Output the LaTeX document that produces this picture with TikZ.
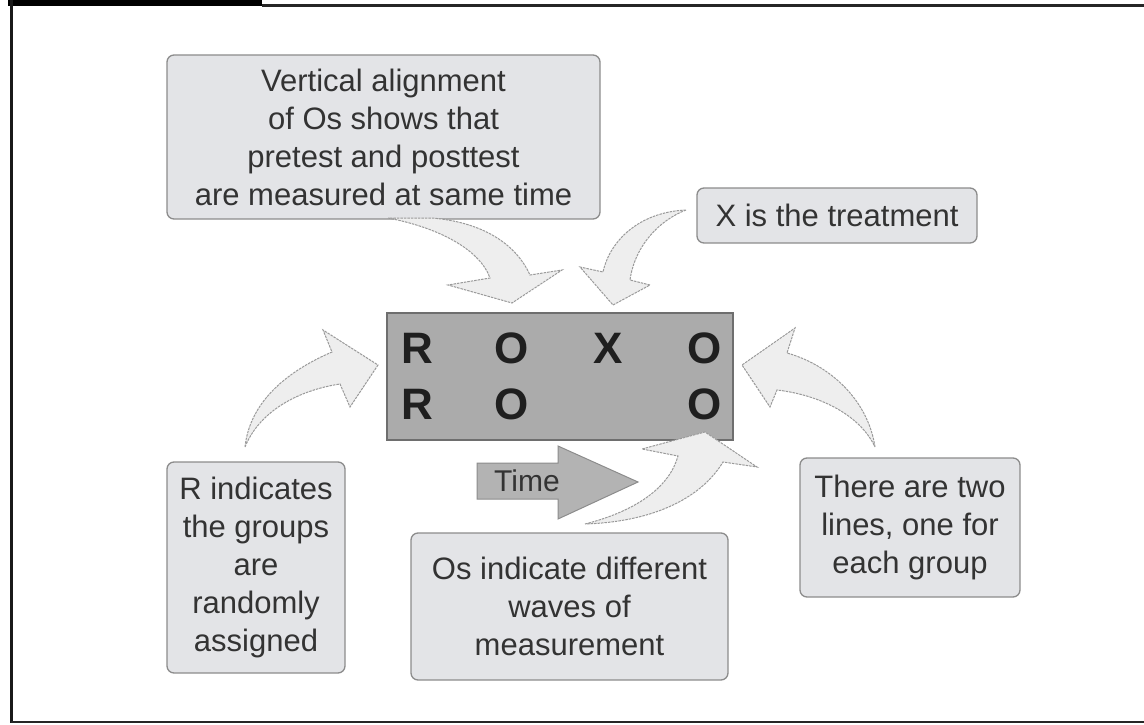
\documentclass[tikz,border=0pt]{standalone}
\usepackage{fontspec}
\setmainfont{Liberation Sans}
\definecolor{boxfill}{HTML}{E3E4E7}
\definecolor{boxline}{HTML}{8C8C8C}
\definecolor{cfill}{HTML}{ABABAB}
\definecolor{cline}{HTML}{6E6E6E}
\definecolor{afill}{HTML}{EEEEEE}
\definecolor{aline}{HTML}{9A9A9A}
\definecolor{tfill}{HTML}{B3B3B3}
\definecolor{txt}{HTML}{333333}
\begin{document}
\begin{tikzpicture}[x=1pt,y=-1pt,
  note/.style={draw=boxline, fill=boxfill, line width=1.3pt, rounded corners=7pt, inner sep=0pt, align=center, text=txt, font=\fontsize{31}{38}\selectfont},
  carrow/.style={fill=afill, draw=aline, line width=1pt, dash pattern=on 2.5pt off 1pt},
  letter/.style={font=\bfseries\fontsize{44}{44}\selectfont, text=black!88, anchor=base, inner sep=0pt}]
\useasboundingbox (0,0) rectangle (1144,725);
% frame
\fill (8,0) rectangle (262,6.5);
\draw[line width=2.5pt, black!85] (262,5.5) -- (1144,5.5);
\draw[line width=3pt, black!90] (11,0) -- (11,723);
\draw[line width=2.5pt, black!85] (11,722) -- (1144,722);

% boxes
\node[note, minimum width=433pt, minimum height=164pt] (top) at (383.5,137) {Vertical alignment\\of Os shows that\\pretest and posttest\\are measured at same time};
\node[note, minimum width=280pt, minimum height=55pt] (xbox) at (837,215.5) {X is the treatment};
\node[note, minimum width=178pt, minimum height=211pt] (rbox) at (256,567.5) {R indicates\\the groups\\are\\randomly\\assigned};
\node[note, minimum width=317pt, minimum height=147pt] (obox) at (569.5,606.5) {Os indicate different\\waves of\\measurement};
\node[note, minimum width=220pt, minimum height=139pt] (lbox) at (910,527.5) {There are two\\lines, one for\\each group};

% center design box
\node[draw=cline, fill=cfill, line width=1.5pt, minimum width=346pt, minimum height=127pt, inner sep=0pt] (design) at (560,376.5) {};
\node[letter] (r1) at (417,363) {R};
\node[letter] (o1) at (512,363) {O};
\node[letter] (x1) at (608,363) {X};
\node[letter] (o2) at (705,363) {O};
\node[letter] (r2) at (417,419) {R};
\node[letter] (o3) at (512,419) {O};
\node[letter] (o4) at (705,419) {O};

% time arrow
\draw[fill=tfill, draw=black!45, line width=1pt] (477,463) -- (558,463) -- (558,446) -- (638,482) -- (558,519) -- (558,499) -- (477,499) -- cycle;
\node[text=txt, font=\fontsize{30}{37}\selectfont] (time) at (527,481) {Time};

% curved block arrows
\draw[carrow] (388,218) .. controls (440,228) and (480,250) .. (490,278) -- (448,285) -- (512,303) -- (562,270) -- (530,275) .. controls (515,242) and (480,222) .. (432,218) -- cycle;
\draw[carrow] (686,210) .. controls (640,212) and (610,240) .. (603,272) -- (580,267) -- (613,305) -- (650,285) -- (630,280) .. controls (635,245) and (660,220) .. (686,210) -- cycle;
\draw[carrow] (245,447) .. controls (250,400) and (290,370) .. (332,352) -- (323,330) -- (378,365) -- (350,407) -- (340,384) .. controls (300,390) and (260,410) .. (245,447) -- cycle;
\draw[carrow] (875,447) .. controls (868,400) and (830,365) .. (787,353) -- (795,328) -- (742,365) -- (770,407) -- (777,390) .. controls (820,395) and (860,415) .. (875,447) -- cycle;
\draw[carrow] (585,524) .. controls (640,510) and (670,485) .. (678,456) -- (642,449) -- (705,432) -- (757,467) -- (723,462) .. controls (700,500) and (650,522) .. (585,524) -- cycle;
\end{tikzpicture}
\end{document}
